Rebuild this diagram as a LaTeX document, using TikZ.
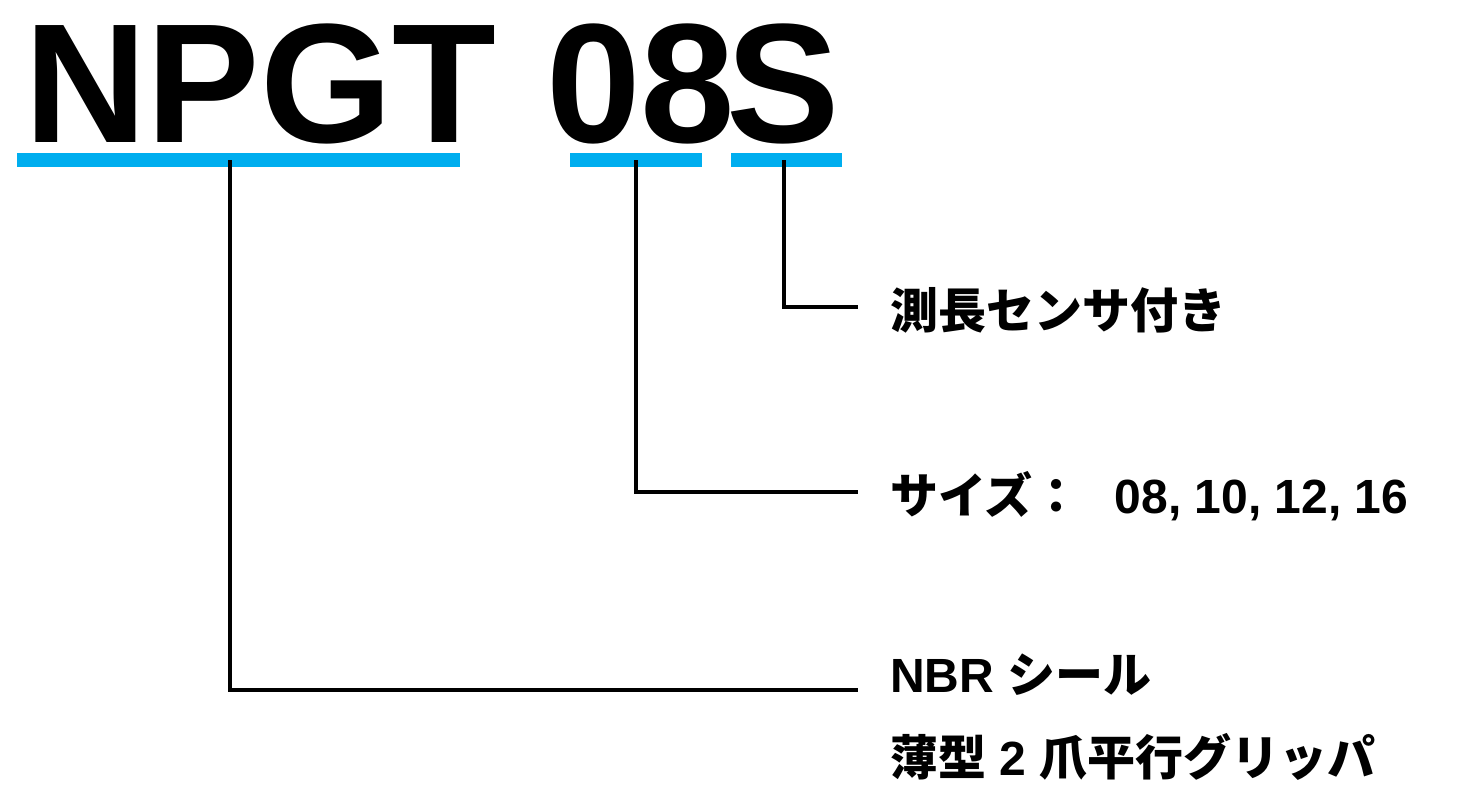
\documentclass[tikz,border=0pt]{standalone}
\usepackage{fontspec}
\setmainfont{Liberation Sans}
\newfontfamily\jpfont{Noto Sans CJK JP Bold}
\usetikzlibrary{positioning}
\definecolor{barblue}{RGB}{0,174,239}

\begin{document}
\begin{tikzpicture}[x=1pt,y=-1pt,node distance=32pt]
	\tikzstyle{code}=[font=\fontsize{170}{170}\selectfont\bfseries, inner sep=0pt, anchor=base west]
	\tikzstyle{bar}=[fill=barblue, inner sep=0pt, minimum height=14pt]
	\tikzstyle{lbl}=[font=\fontsize{48}{48}\selectfont\bfseries, inner sep=0pt, anchor=base west]
	\tikzstyle{lead}=[line width=4pt]
	\useasboundingbox (0,0) rectangle (1473,803);

	% model code
	\node[code] (npgt) at (24,142) {NPGT};
	\node[code] (size) at (546,142) {08};
	\node[code] (opt)  at (726,142) {S};

	\node[bar, minimum width=443pt] (barN) at (238.5,160) {};
	\node[bar, minimum width=132pt] (barZ) at (636,160) {};
	\node[bar, minimum width=111pt] (barS) at (786.5,160) {};

	% ends of the leaders
	\coordinate (endS) at (858,307);
	\coordinate (endZ) at (858,492);
	\coordinate (endN) at (858,690);

	\node[right=of endS, lbl, yshift=-21pt] (sensor) {\jpfont 測長センサ付き};
	\node[right=of endZ, lbl, yshift=-21pt] (sizes) {{\jpfont サイズ：}\hspace{34pt}08, 10, 12, 16};
	\node[right=of endN, lbl, yshift=-2pt] (seal) {NBR {\jpfont シール}};
	\node[below=83pt of seal.base west, lbl] (grip) {{\jpfont 薄型} 2 {\jpfont 爪平行グリッパ}};

	\draw[lead] ([xshift=-2.5pt]barS.center) |- (endS);
	\draw[lead] (barZ.center) |- (endZ);
	\draw[lead] ([xshift=-8.5pt]barN.center) |- (endN);
\end{tikzpicture}
\end{document}
